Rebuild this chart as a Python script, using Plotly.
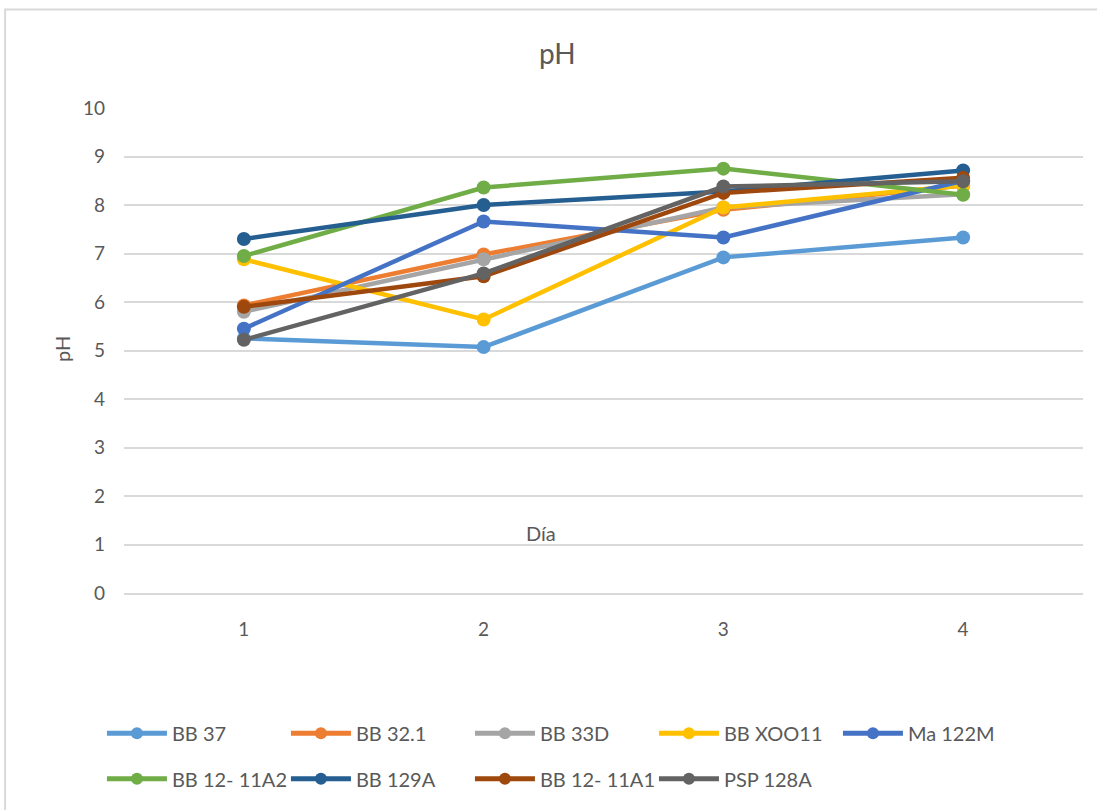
import plotly.graph_objects as go

# Sampling days
dias = ["1", "2", "3", "4"]

# pH readings per strain
bb_37 = [5.25, 5.07, 6.92, 7.33]
bb_32_1 = [5.93, 6.98, 7.90, 8.40]
bb_33d = [5.80, 6.88, 7.95, 8.22]
bb_xoo11 = [6.88, 5.64, 7.95, 8.40]
ma_122m = [5.45, 7.66, 7.33, 8.50]
bb_12_11a2 = [6.95, 8.36, 8.75, 8.21]
bb_129a = [7.30, 8.00, 8.28, 8.71]
bb_12_11a1 = [5.90, 6.53, 8.25, 8.56]
psp_128a = [5.22, 6.59, 8.38, 8.49]

series = [
    ("BB 37", bb_37, "#5B9BD5", "legend"),
    ("BB 32.1", bb_32_1, "#ED7D31", "legend"),
    ("BB 33D", bb_33d, "#A5A5A5", "legend"),
    ("BB XOO11", bb_xoo11, "#FFC000", "legend"),
    ("Ma 122M", ma_122m, "#4472C4", "legend"),
    ("BB 12- 11A2", bb_12_11a2, "#70AD47", "legend2"),
    ("BB 129A", bb_129a, "#255E91", "legend2"),
    ("BB 12- 11A1", bb_12_11a1, "#9E480E", "legend2"),
    ("PSP 128A", psp_128a, "#636363", "legend2"),
]

FONT = "Lato, 'Open Sans', sans-serif"
TXT = "#595959"
GRID = "#D9D9D9"

fig = go.Figure()
for name, vals, color, leg in series:
    fig.add_trace(go.Scatter(
        x=dias, y=vals, name=name, mode="lines+markers",
        line=dict(color=color, width=4.5),
        marker=dict(color=color, size=14, symbol="circle"),
        legend=leg,
    ))

legend_common = dict(
    orientation="h", xanchor="left", yanchor="middle",
    font=dict(family=FONT, size=20, color=TXT),
    itemwidth=60, entrywidth=109, entrywidthmode="pixels",
    bgcolor="rgba(0,0,0,0)", itemsizing="constant",
    tracegroupgap=0,
)

fig.update_layout(
    width=1097, height=810,
    margin=dict(l=124, r=14, t=108, b=215),
    paper_bgcolor="white", plot_bgcolor="white",
    font=dict(family=FONT, color=TXT),
    showlegend=True,
    legend=dict(x=-0.023, y=-0.289, **legend_common),
    legend2=dict(x=-0.023, y=-0.383, **legend_common),
    xaxis=dict(
        type="category", range=[-0.5, 3.5],
        showgrid=False, showline=True, linecolor=GRID, linewidth=1.5,
        ticks="", tickfont=dict(family=FONT, size=19, color=TXT),
        ticklabelstandoff=18, zeroline=False,
    ),
    yaxis=dict(
        range=[0, 10], tick0=0, dtick=1,
        showgrid=True, gridcolor=GRID, gridwidth=1.5,
        zeroline=False, showline=False, ticks="",
        tickfont=dict(family=FONT, size=19, color=TXT),
        ticklabelstandoff=18,
    ),
    annotations=[
        dict(text="pH", x=0.452, y=1.113, xref="paper", yref="paper",
             showarrow=False, font=dict(family=FONT, size=28, color=TXT),
             xanchor="center", yanchor="middle"),
        dict(text="pH", x=-0.0647, y=0.503, xref="paper", yref="paper",
             textangle=-90, showarrow=False,
             font=dict(family=FONT, size=20, color=TXT),
             xanchor="center", yanchor="middle"),
        dict(text="Día", x=0.435, y=0.123, xref="paper", yref="paper",
             showarrow=False, font=dict(family=FONT, size=20, color=TXT),
             xanchor="center", yanchor="middle"),
    ],
    shapes=[
        dict(type="rect", xref="paper", yref="paper",
             x0=-0.124, x1=1.1, y0=-0.6, y1=1.203,
             line=dict(color=GRID, width=2), fillcolor="rgba(0,0,0,0)",
             layer="below"),
    ],
)

fig.write_html("out.html")
